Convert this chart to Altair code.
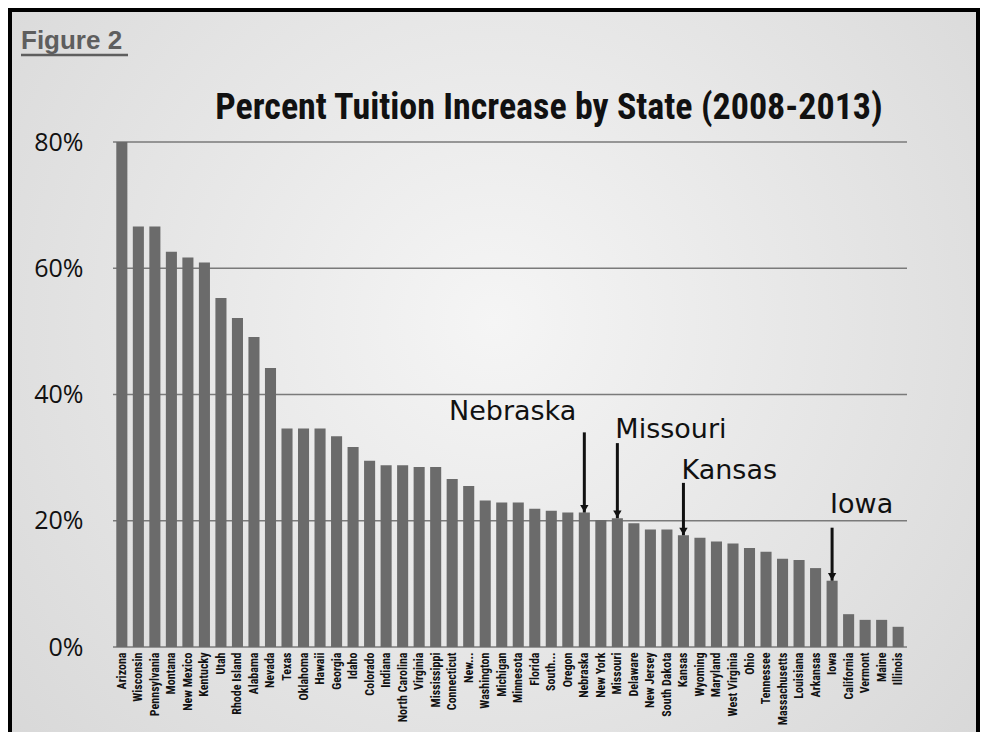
import altair as alt
import pandas as pd

states = ["Arizona", "Wisconsin", "Pennsylvania", "Montana", "New Mexico", "Kentucky", "Utah",
          "Rhode Island", "Alabama", "Nevada", "Texas", "Oklahoma", "Hawaii", "Georgia", "Idaho",
          "Colorado", "Indiana", "North Carolina", "Virginia", "Mississippi", "Connecticut", "New...",
          "Washington", "Michigan", "Minnesota", "Florida", "South...", "Oregon", "Nebraska",
          "New York", "Missouri", "Delaware", "New Jersey", "South Dakota", "Kansas", "Wyoming",
          "Maryland", "West Virginia", "Ohio", "Tennessee", "Massachusetts", "Louisiana",
          "Arkansas", "Iowa", "California", "Vermont", "Maine", "Illinois"]
increase = [80.0, 66.6, 66.6, 62.6, 61.7, 60.9, 55.3, 52.1, 49.1, 44.2, 34.6, 34.6, 34.6, 33.4,
            31.7, 29.5, 28.8, 28.8, 28.5, 28.5, 26.6, 25.5, 23.2, 22.9, 22.9, 21.9, 21.6, 21.3,
            21.3, 20.1, 20.4, 19.6, 18.6, 18.6, 17.7, 17.3, 16.7, 16.4, 15.7, 15.1, 14.0, 13.8,
            12.5, 10.5, 5.2, 4.3, 4.3, 3.2]
y_ticks = [0, 20, 40, 60, 80]

ann_states = ["Nebraska", "Missouri", "Kansas", "Iowa"]
ann_text_level = [37.2, 34.4, 27.9, 22.5]
ann_arrow_start = [34.0, 32.3, 26.0, 18.9]

title_text = "Percent Tuition Increase by State (2008-2013)"
figure_text = "Figure 2"

df = pd.DataFrame({"state": states, "value": increase})
val = dict(zip(states, increase))
ann = pd.DataFrame({
    "state": ann_states,
    "label": ann_states,
    "ty": ann_text_level,
    "a0": ann_arrow_start,
    "a1": [val[s] for s in ann_states],
})
grid_df = pd.DataFrame({"v": y_ticks})

W, H = 794, 505
PL, PT, PR, PB = 105, 134, 73, 85
narrow = "Liberation Sans Narrow, Roboto Condensed, Arial Narrow, Liberation Sans"

x_enc = alt.X("state:N", sort=states, title=None,
              scale=alt.Scale(paddingInner=0.33, paddingOuter=0.2),
              axis=alt.Axis(labelAngle=270, labelFont=narrow, labelFontSize=12,
                            labelFontWeight="bold", labelColor="#111111", labelPadding=5,
                            ticks=False, domain=False, grid=False, labelLimit=200, zindex=1))
y_scale = alt.Scale(domain=[0, 80])

one = pd.DataFrame({"t": [0]})

bg = alt.Chart(one).mark_rect(
    color=alt.Gradient(gradient="radial", x1=0.5, y1=0.45, x2=0.5, y2=0.45, r1=0.0, r2=0.75,
                       stops=[alt.GradientStop(offset=0, color="#f5f5f5"),
                              alt.GradientStop(offset=1, color="#d4d4d4")])
).encode(x=alt.value(-PL), x2=alt.value(W + PR), y=alt.value(-PT), y2=alt.value(H + PB))

grid = alt.Chart(grid_df).mark_rule(color="#7a7a7a", strokeWidth=1.6).encode(
    y=alt.Y("v:Q", scale=y_scale), x=alt.value(0), x2=alt.value(W)
)

bars = alt.Chart(df).mark_bar(color="#6b6b6b").encode(
    x=x_enc,
    y=alt.Y("value:Q", scale=y_scale, title=None,
            axis=alt.Axis(values=y_ticks, labelExpr="datum.value + '%'", labelFont="Open Sans",
                          labelFontSize=25, labelColor="#111111", labelPadding=30,
                          ticks=False, domain=False, grid=False, zindex=1)),
)

xa = alt.X("state:N", sort=states, scale=alt.Scale(paddingInner=0.33, paddingOuter=0.2))

arrows = alt.Chart(ann).mark_rule(color="#111111", strokeWidth=3).encode(
    x=xa, y=alt.Y("a0:Q", scale=y_scale), y2="a1:Q"
)
heads = alt.Chart(ann).mark_point(shape="triangle-down", filled=True, color="#111111",
                                  size=70, opacity=1, yOffset=-4).encode(
    x=xa, y=alt.Y("a1:Q", scale=y_scale)
)
txt_right = alt.Chart(ann).transform_filter(alt.datum.state == "Nebraska").mark_text(
    align="right", baseline="middle", dx=-8, font="DejaVu Sans", fontSize=27, color="#111111"
).encode(x=xa, y=alt.Y("ty:Q", scale=y_scale), text="label:N")
txt_left = alt.Chart(ann).transform_filter(alt.datum.state != "Nebraska").mark_text(
    align="left", baseline="middle", dx=-2, font="DejaVu Sans", fontSize=27, color="#111111"
).encode(x=xa, y=alt.Y("ty:Q", scale=y_scale), text="label:N")

title = alt.Chart(pd.DataFrame({"t": [title_text]})).mark_text(
    align="center", baseline="middle", font=narrow, fontSize=36, fontWeight="bold",
    color="#111111"
).encode(x=alt.value(436), y=alt.value(-34), text="t:N")

fig = alt.Chart(pd.DataFrame({"t": [figure_text]})).mark_text(
    align="left", baseline="alphabetic", font="Liberation Sans", fontSize=26,
    fontWeight="bold", color="#5e5e5e"
).encode(x=alt.value(-92), y=alt.value(-93), text="t:N")
fig_line = alt.Chart(one).mark_rule(
    color="#5e5e5e", strokeWidth=2.5
).encode(x=alt.value(-92), x2=alt.value(15), y=alt.value(-87))

frame_left = alt.Chart(one).mark_rule(color="#000000", strokeWidth=4).encode(
    x=alt.value(-PL + 2), y=alt.value(-PT), y2=alt.value(H + PB))
frame_top = alt.Chart(one).mark_rule(color="#000000", strokeWidth=4).encode(
    x=alt.value(-PL), x2=alt.value(W + PR), y=alt.value(-PT + 2))
frame_right = alt.Chart(one).mark_rule(color="#000000", strokeWidth=4).encode(
    x=alt.value(W + PR - 2), y=alt.value(-PT), y2=alt.value(H + PB))

chart = alt.layer(
    bg, grid, bars, arrows, heads, txt_right, txt_left, title, fig, fig_line,
    frame_left, frame_top, frame_right
).properties(
    width=W, height=H,
    autosize=alt.AutoSizeParams(type="none"),
    padding={"left": PL, "top": PT, "right": PR, "bottom": PB},
    background="#e8e8e8",
).configure_view(stroke=None)

chart.save("out.html", embed_options={"renderer": "svg", "actions": False})
